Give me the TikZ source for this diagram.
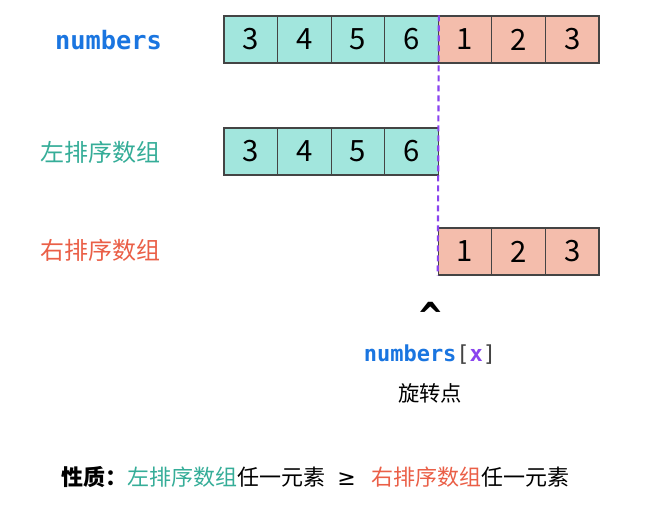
\documentclass[tikz,border=0pt]{standalone}
\usepackage{fontspec}
\setmainfont{Noto Sans CJK SC}
\newfontfamily\codefont{DejaVu Sans Mono}
\newfontfamily\symfont{DejaVu Sans}
\definecolor{leftfill}{HTML}{A2E6DD}
\definecolor{rightfill}{HTML}{F4BDAC}
\definecolor{leftink}{HTML}{35AD98}
\definecolor{rightink}{HTML}{EA5F47}
\definecolor{codeblue}{HTML}{1A75E0}
\definecolor{pivotpurple}{HTML}{8A44EE}
\definecolor{cellline}{HTML}{444444}
\tikzset{
  cell/.style = {draw=cellline, line width=0.8pt, minimum width=40.2pt,
                 minimum height=35.25pt, inner sep=0pt,
                 font=\fontsize{22}{22}\selectfont},
  lcell/.style = {cell, fill=leftfill},
  rcell/.style = {cell, fill=rightfill},
  rowlabel/.style = {font=\fontsize{18}{18}\selectfont},
  cut/.style = {pivotpurple, line width=1.6pt, dash pattern=on 4.5pt off 3pt}
}
\begin{document}
\begin{tikzpicture}[x=0.75pt, y=-0.75pt]
    \useasboundingbox (0,0) rectangle (666,509);
    % numbers
    \node[font=\fontsize{19}{19}\selectfont\codefont\bfseries, codeblue] (numlabel) at (108.5,40) {numbers};
    \node[lcell] (a1) at (250.8,39.5) {3};
    \node[lcell] (a2) at (304.4,39.5) {4};
    \node[lcell] (a3) at (357.9,39.5) {5};
    \node[lcell] (a4) at (411.5,39.5) {6};
    \node[rcell] (a5) at (465.1,39.5) {1};
    \node[rcell] (a6) at (518.6,39.5) {2};
    \node[rcell] (a7) at (572.2,39.5) {3};
    % left sorted part
    \node[rowlabel, leftink] (leftlabel) at (100,152) {左排序数组};
    \node[lcell] (b1) at (250.8,151.5) {3};
    \node[lcell] (b2) at (304.4,151.5) {4};
    \node[lcell] (b3) at (357.9,151.5) {5};
    \node[lcell] (b4) at (411.5,151.5) {6};
    % right sorted part
    \node[rowlabel, rightink] (rightlabel) at (100,250) {右排序数组};
    \node[rcell] (c1) at (465.1,251.5) {1};
    \node[rcell] (c2) at (518.6,251.5) {2};
    \node[rcell] (c3) at (572.2,251.5) {3};
    \draw[cut] (a4.north east) -- (c1.south west);
    % pivot
    \node[font=\fontsize{28}{28}\selectfont\codefont\bfseries] (caret) at (431,316) {\textasciicircum};
    \node[font=\fontsize{16.5}{16.5}\selectfont\codefont\bfseries] (pivotname) at (430,355)
        {\textcolor{codeblue}{numbers}\textcolor{cellline}{\mdseries[}\textcolor{pivotpurple}{x}\textcolor{cellline}{\mdseries]}};
    \node[font=\fontsize{16}{16}\selectfont] (pivotword) at (430,393) {旋转点};
    % property
    \node[anchor=west, inner sep=0pt, font=\fontsize{16.5}{16.5}\selectfont] (property) at (61,477)
        {{\bfseries 性质：}\textcolor{leftink}{左排序数组}任一元素\hspace{9pt}{\symfont ≥}\hspace{12pt}\textcolor{rightink}{右排序数组}任一元素};
\end{tikzpicture}
\end{document}
